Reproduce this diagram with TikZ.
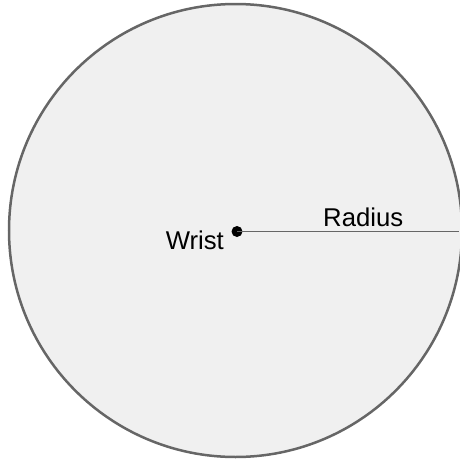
\documentclass[tikz,border=0pt]{standalone}
\usepackage{fontspec}
\setmainfont{Liberation Sans}
\definecolor{rimgray}{HTML}{666666}
\definecolor{discfill}{HTML}{F0F0F0}
\tikzset{
  disc/.style={circle, draw=rimgray, line width=2.5pt, fill=discfill, minimum size=453pt, inner sep=0pt},
  pivot/.style={circle, fill=black, minimum size=11pt, inner sep=0pt},
  lbl/.style={font=\fontsize{25.7}{30}\selectfont, inner sep=0pt, text=black},
  radiusline/.style={draw=rimgray, line width=1.5pt}
}
\begin{document}
\begin{tikzpicture}[x=1pt,y=-1pt]
\useasboundingbox (0,0) rectangle (459,461);
\node[disc] (wheel) at (235.5,230.5) {};
\node[pivot] (wrist) at (237,231.5) {};
\coordinate (rim) at (459,231.5);
\draw[radiusline] (wrist.center) -- (rim);
\node[lbl, anchor=base east] (wristlbl) at (224,249) {Wrist};
\node[lbl, anchor=base west] (radiuslbl) at (323,226) {Radius};
\end{tikzpicture}
\end{document}
